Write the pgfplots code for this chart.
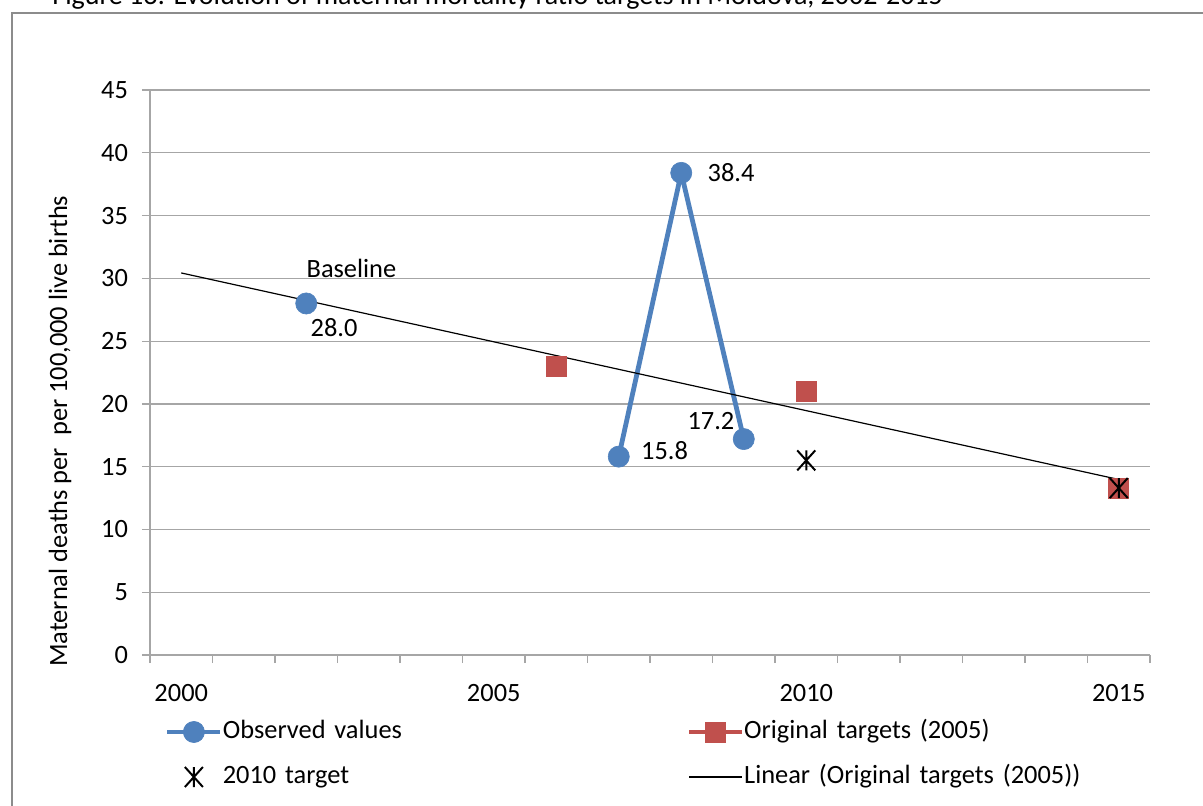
\documentclass[border=0pt]{standalone}
\usepackage{fontspec}
\setmainfont{Carlito}
\usepackage{pgfplots}
\pgfplotsset{compat=1.18}

\definecolor{obsblue}{HTML}{4F81BD}
\definecolor{tgtred}{HTML}{C0504D}
\definecolor{gridgray}{HTML}{A6A6A6}
\definecolor{framegray}{HTML}{8C8C8C}

% Spreadsheet-style star: a vertical stroke crossed by an X
\pgfdeclareplotmark{xlstar}{%
  \pgfpathmoveto{\pgfqpoint{0pt}{\pgfplotmarksize}}%
  \pgfpathlineto{\pgfqpoint{0pt}{-\pgfplotmarksize}}%
  \pgfpathmoveto{\pgfqpoint{-0.9\pgfplotmarksize}{\pgfplotmarksize}}%
  \pgfpathlineto{\pgfqpoint{0.9\pgfplotmarksize}{-\pgfplotmarksize}}%
  \pgfpathmoveto{\pgfqpoint{-0.9\pgfplotmarksize}{-\pgfplotmarksize}}%
  \pgfpathlineto{\pgfqpoint{0.9\pgfplotmarksize}{\pgfplotmarksize}}%
  \pgfusepathqstroke}

\begin{document}
\begin{tikzpicture}[font=\fontsize{13.2}{15.5}\selectfont]
\useasboundingbox (0,0) rectangle (601.5pt,-402.5pt);
\clip (0,0) rectangle (601.5pt,-402.5pt);
% chart frame and caption
\draw[framegray, line width=1.2pt] (6pt,-6.5pt) rectangle (640pt,-440pt);
\node[anchor=base west, inner sep=0pt, font=\fontsize{14}{16}\selectfont] at (26pt,-2.3pt)
  {Figure 13: Evolution of maternal mortality ratio targets in Moldova, 2002-2015};

\begin{axis}[
  at={(75pt,-327.5pt)}, anchor=south west, scale only axis,
  width=500pt, height=282.5pt,
  xmin=-0.5, xmax=15.5, ymin=0, ymax=45,
  axis lines*=left,
  axis line style={gridgray, line width=0.6pt},
  ytick={0,5,...,45},
  ymajorgrids, major grid style={gridgray, line width=0.6pt},
  xtick={0,5,10,15}, xticklabels={2000,2005,2010,2015},
  minor xtick={-0.5,0.5,...,15.5},
  tick align=outside,
  major tick length=4pt, minor tick length=4pt,
  major x tick style={draw=none},
  tick style={gridgray, line width=0.6pt},
  yticklabel style={xshift=-3.5pt},
  xticklabel style={yshift=-7pt},
  /pgf/number format/assume math mode=true,
  ylabel={Maternal deaths per\ \ per 100,000 live births},
  ylabel style={at={(axis description cs:-0.09,0.396)}, anchor=center},
  legend columns=2,
  legend cell align=left,
  legend style={draw=none, fill=none, inner sep=0pt, outer sep=0pt,
    at={(axis description cs:0.015,-0.115)}, anchor=north west,
    column sep=0pt, row sep=10.5pt,
    nodes={inner sep=0pt, text width=232pt, text height=9pt, text depth=3pt, anchor=west}},
  legend image code/.code={%
    \draw[mark repeat=2, mark phase=2, #1]
      plot coordinates {(0pt,0pt) (13.25pt,0pt) (26.5pt,0pt)};},
]
% observed values (blank years leave gaps)
\addplot[obsblue, line width=2.4pt, mark=*, mark size=5.3pt,
  mark options={solid, fill=obsblue, draw=obsblue, line width=0.3pt},
  unbounded coords=jump]
  coordinates {(2,28.0) (3,nan) (7,15.8) (8,38.4) (9,17.2)};
\addlegendentry{Observed values}

% linear trend of the original targets
\addplot[black, line width=0.6pt, forget plot]
  coordinates {(0,30.43) (15,13.98)};

% original targets set in 2005
\addplot[tgtred, line width=2.2pt, mark=square*, mark size=5pt,
  mark options={solid, fill=tgtred, draw=tgtred, line width=0.3pt},
  unbounded coords=jump]
  coordinates {(6,23.0) (7,nan) (10,21.0) (11,nan) (15,13.3)};
\addlegendentry{Original targets (2005)}

% targets revised in 2010
\addplot[only marks, black, mark=xlstar, mark size=5pt,
  mark options={line width=1pt}]
  coordinates {(10,15.5) (15,13.3)};
\addlegendentry{2010 target}

\addlegendimage{black, line width=0.6pt}
\addlegendentry{Linear (Original targets (2005))}

% value labels
\node[anchor=west, inner sep=0pt, xshift=13pt] at (axis cs:8,38.4) {38.4};
\node[anchor=west, inner sep=0pt, xshift=11pt, yshift=3pt] at (axis cs:7,15.8) {15.8};
\node[anchor=east, inner sep=0pt, xshift=-4.5pt, yshift=9pt] at (axis cs:9,17.2) {17.2};
\node[anchor=west, inner sep=0pt, xshift=2pt, yshift=-12pt] at (axis cs:2,28.0) {28.0};
\node[anchor=west, inner sep=0pt, yshift=17.5pt] at (axis cs:2,28.0) {Baseline};
\end{axis}
\end{tikzpicture}
\end{document}
